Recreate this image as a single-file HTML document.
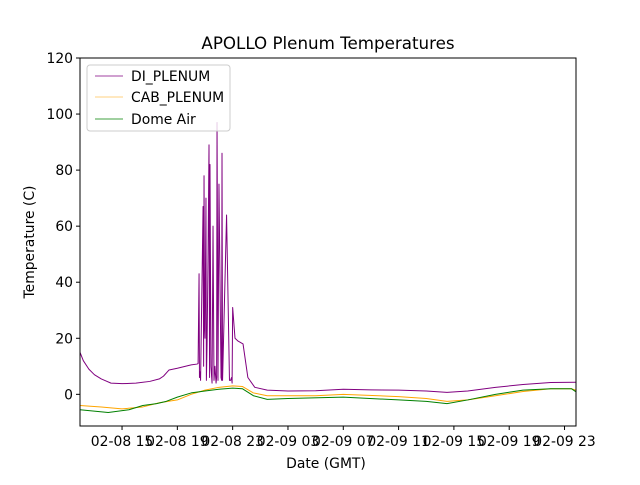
<!DOCTYPE html>
<html><head><meta charset="utf-8"><style>
body{margin:0;background:#fff;}
svg text{font-family:"DejaVu Sans","Liberation Sans",sans-serif;}
</style></head><body>
<svg id="chart" width="640" height="480" xmlns="http://www.w3.org/2000/svg">
<rect width="640" height="480" fill="#fff"/>
<text x="328" y="49" font-size="16.7" text-anchor="middle">APOLLO Plenum Temperatures</text>
<g id="plot"></g>
<rect x="80" y="58" width="496" height="368" fill="none" stroke="#000" stroke-width="1"/>
<text x="326" y="468" font-size="13.9" text-anchor="middle">Date (GMT)</text>
<text x="34" y="242" font-size="13.9" text-anchor="middle" transform="rotate(-90 34 242)">Temperature (C)</text>
<g>
<rect x="87" y="65" width="143" height="66" rx="3" fill="#fff" fill-opacity="0.8" stroke="#ccc"/>
<line x1="95" y1="76" x2="123" y2="76" stroke="purple" stroke-width="0.8"/>
<text x="131" y="81" font-size="13.9">DI_PLENUM</text>
<line x1="95" y1="97" x2="123" y2="97" stroke="orange" stroke-width="0.5"/>
<text x="131" y="102" font-size="13.9">CAB_PLENUM</text>
<line x1="95" y1="119" x2="123" y2="119" stroke="green" stroke-width="0.8"/>
<text x="131" y="124" font-size="13.9">Dome Air</text>
</g>
</svg>
<script>
const xTickLabels=["02-08 15","02-08 19","02-08 23","02-09 03","02-09 07","02-09 11","02-09 15","02-09 19","02-09 23"];
const xTickHours=[0,4,8,12,16,20,24,28,32];
const yTicks=[0,20,40,60,80,100,120];
const diHours=[-3.04,-2.8,-2.4,-2,-1.5,-0.8,0,1,2,2.7,3,3.4,4,5,5.43,5.5,5.57,5.6,5.64,5.68,5.86,5.9,5.93,5.97,6.0,6.07,6.1,6.15,6.22,6.29,6.33,6.36,6.43,6.51,6.58,6.65,6.72,6.8,6.84,6.87,6.94,7.01,7.16,7.2,7.23,7.27,7.56,7.77,7.85,7.92,7.96,8.0,8.17,8.39,8.75,9.1,9.6,10.5,12,14,16,18,20,22,23.5,25,27,29,31,32.8];
const diValues=[15,12,9,7,5.5,4,3.8,4,4.6,5.5,6.5,8.7,9.3,10.5,10.8,11,43,6,8,5,67,10,78,24,20,70,5,18,49,89,6,82,10,4,60,5,10,4,6,97,5,75,6,5,86,5,64,5,5,6,4,31,20,19,18,6,2.5,1.5,1.2,1.3,1.8,1.6,1.5,1.2,0.7,1.2,2.5,3.5,4.2,4.3];
const cabHours=[-3.04,-1.5,0,1.5,2.7,4,5,6,7,8,8.7,9.5,10.5,14,16,20,22,23.5,25,27,29,31,32.5,32.8];
const cabValues=[-4,-4.5,-5.2,-4.5,-3,-2,0,1.5,2.5,3,2.8,0.5,-0.5,-0.5,0,-0.8,-1.5,-2.5,-2,-0.5,1,2,2,1.5];
const domeHours=[-3.04,-1,0.5,1.5,2.5,3.2,4,5,6,7,8,8.7,9.5,10.5,12,16,20,22,23.5,25,27,29,31,32.5,32.8];
const domeValues=[-5.5,-6.5,-5.5,-4,-3.3,-2.5,-1,0.5,1.2,1.8,2.2,2,-0.5,-1.8,-1.5,-1,-2,-2.5,-3.3,-2,0,1.5,2,2,1];
const X0=80,X1=576,Y0=58,Y1=426;
const hMin=-3.04,hMax=32.83,vMin=-11.3,vMax=120;
function xs(h){return X0+(h-hMin)/(hMax-hMin)*(X1-X0);}
function ys(v){return Y1-(v-vMin)/(vMax-vMin)*(Y1-Y0);}
const NS="http://www.w3.org/2000/svg";
const svg=document.getElementById('chart');
const plot=document.getElementById('plot');
function series(hs,vs,color,w,name){
  const p=document.createElementNS(NS,'polyline');
  p.setAttribute('points',hs.map((h,i)=>xs(h).toFixed(2)+','+ys(vs[i]).toFixed(2)).join(' '));
  p.setAttribute('fill','none');p.setAttribute('stroke',color);p.setAttribute('stroke-width',w);
  p.setAttribute('stroke-linejoin','round');
  
  
  plot.appendChild(p);
}
series(cabHours,cabValues,'orange',1,'cab-plenum-line');
series(domeHours,domeValues,'green',1,'dome-air-line');
series(diHours,diValues,'purple',1,'di-plenum-line');
xTickHours.forEach((h,i)=>{
  const x=xs(h);
  const l=document.createElementNS(NS,'line');
  l.setAttribute('x1',x);l.setAttribute('x2',x);l.setAttribute('y1',Y1);l.setAttribute('y2',Y1+4);l.setAttribute('stroke','#000');
  
  
  svg.appendChild(l);
  const t=document.createElementNS(NS,'text');
  t.setAttribute('x',x);t.setAttribute('y',Y1+20);t.setAttribute('font-size','13.9');t.setAttribute('text-anchor','middle');
  t.textContent=xTickLabels[i];
  
  
  svg.appendChild(t);
});
yTicks.forEach(v=>{
  const y=ys(v);
  const l=document.createElementNS(NS,'line');
  l.setAttribute('x1',X0-4);l.setAttribute('x2',X0);l.setAttribute('y1',y);l.setAttribute('y2',y);l.setAttribute('stroke','#000');
  
  
  svg.appendChild(l);
  const t=document.createElementNS(NS,'text');
  t.setAttribute('x',X0-7);t.setAttribute('y',y+5);t.setAttribute('font-size','13.9');t.setAttribute('text-anchor','end');
  t.textContent=v;
  
  
  svg.appendChild(t);
});
</script>
</body></html>
